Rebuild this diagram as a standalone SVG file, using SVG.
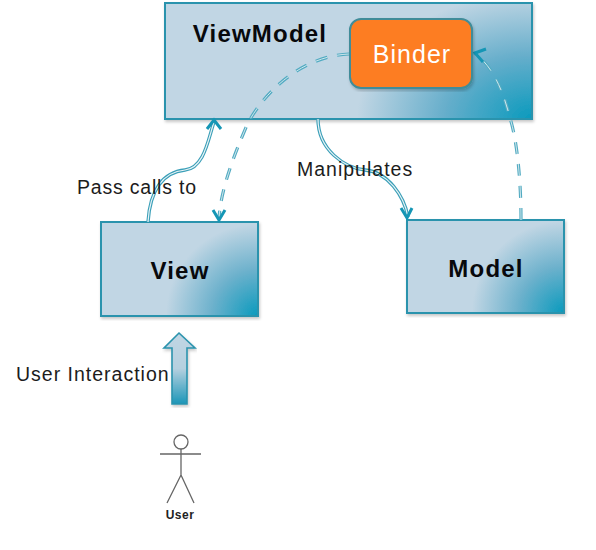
<svg xmlns="http://www.w3.org/2000/svg" width="596" height="550" viewBox="0 0 596 550">
<style>
.box{stroke:#2a93ad;stroke-width:2}
.lbl{font-family:"Liberation Sans",Arial,sans-serif;font-size:19.5px;fill:#1c1c1c;letter-spacing:1px}
.ttl{font-family:"Liberation Sans",Arial,sans-serif;font-weight:700;fill:#08090c;text-anchor:middle;letter-spacing:1.2px}
.o{fill:none;stroke:#3a9fb8;stroke-width:3.4}
.i{fill:none;stroke:#eaf4f7;stroke-width:1.2}
.do{fill:none;stroke:#52abc2;stroke-width:3.2;stroke-dasharray:12 10}
.di{fill:none;stroke:#cfe6ec;stroke-width:1;stroke-dasharray:12 10}
.h{fill:none;stroke:#1596b5;stroke-width:3}
.a{stroke:#666;stroke-width:1.3;fill:none}
</style>
<defs>
<radialGradient id="gv" gradientUnits="userSpaceOnUse" cx="532" cy="119" r="175" gradientTransform="translate(532 119) scale(1 .72) translate(-532 -119)">
<stop offset="0" stop-color="#0a9abd"/><stop offset=".5" stop-color="#66aecb"/><stop offset="1" stop-color="#c1d6e4"/></radialGradient>
<radialGradient id="g1" gradientUnits="userSpaceOnUse" cx="258" cy="316" r="92">
<stop offset="0" stop-color="#0a9abd"/><stop offset=".5" stop-color="#6cb1cc"/><stop offset="1" stop-color="#c1d6e4"/></radialGradient>
<radialGradient id="g2" gradientUnits="userSpaceOnUse" cx="564" cy="313" r="92">
<stop offset="0" stop-color="#0a9abd"/><stop offset=".5" stop-color="#6cb1cc"/><stop offset="1" stop-color="#c1d6e4"/></radialGradient>
<linearGradient id="ga" x1="0" y1="0" x2="0" y2="1">
<stop offset="0" stop-color="#c1d6e4"/><stop offset=".5" stop-color="#b5d0df"/><stop offset="1" stop-color="#1b96b8"/></linearGradient>
<filter id="s" x="-5%" y="-5%" width="110%" height="110%"><feDropShadow dx="1" dy="2" stdDeviation="1.5" flood-color="#000" flood-opacity=".22"/></filter>
</defs>
<g id="viewmodel">
<rect class="box" x="165" y="3" width="367" height="116" fill="url(#gv)" filter="url(#s)"/>
<text class="ttl" x="260" y="42" font-size="24">ViewModel</text>
</g>
<g id="view">
<rect class="box" x="101" y="222" width="157" height="94" fill="url(#g1)" filter="url(#s)"/>
<text class="ttl" x="180" y="279" font-size="24">View</text>
</g>
<g id="model">
<rect class="box" x="407" y="220" width="157" height="93" fill="url(#g2)" filter="url(#s)"/>
<text class="ttl" x="486" y="277" font-size="24">Model</text>
</g>
<g id="connectors">
<path class="o" d="M148 222C150 190 163 172 185 170C204 168 208 140 214 122"/>
<path class="i" d="M148 222C150 190 163 172 185 170C204 168 208 140 214 122"/>
<path class="h" d="M207 129L214 120L221 129"/>
<path class="o" d="M318 119C318 150 345 168 365 170C388 172 404 196 408 217"/>
<path class="i" d="M318 119C318 150 345 168 365 170C388 172 404 196 408 217"/>
<path class="h" d="M401 208L407 218L412 208"/>
<path class="do" d="M349 54C300 56 262 95 247 125C232 160 221 190 219 218"/>
<path class="di" d="M349 54C300 56 262 95 247 125C232 160 221 190 219 218"/>
<path class="h" d="M213 210L219 220L225 210"/>
<path class="do" d="M521 220C521 180 517 140 510 118C503 90 492 65 474 53"/>
<path class="di" d="M521 220C521 180 517 140 510 118C503 90 492 65 474 53"/>
<path class="h" d="M486 49L475 53L483 62"/>
</g>
<g id="binder">
<rect x="350" y="19" width="122" height="69" rx="11" fill="#fd7d22" stroke="#3f8c99" stroke-width="2" filter="url(#s)"/>
<text x="412" y="63" text-anchor="middle" font-family="'Liberation Sans',Arial,sans-serif" font-size="25" letter-spacing="1" fill="#fff">Binder</text>
</g>
<g id="labels">
<text class="lbl" x="77" y="194" style="letter-spacing:.8px">Pass calls to</text>
<text class="lbl" x="297" y="176">Manipulates</text>
<text class="lbl" x="16" y="381">User Interaction</text>
</g>
<g id="user-interaction-arrow">
<path d="M179 333L195 348H187V404H172V348H164Z" fill="url(#ga)" stroke="#2a93ad" stroke-width="1.6" filter="url(#s)"/>
</g>
<g id="user">
<circle class="a" cx="181" cy="442" r="7"/>
<path class="a" d="M160 454H201M181 449V475M181 475L167 503M181 475L194 503"/>
<text x="180" y="519" text-anchor="middle" font-family="'Liberation Sans',Arial,sans-serif" font-size="12" font-weight="700" letter-spacing=".5" fill="#222">User</text>
</g>
</svg>
